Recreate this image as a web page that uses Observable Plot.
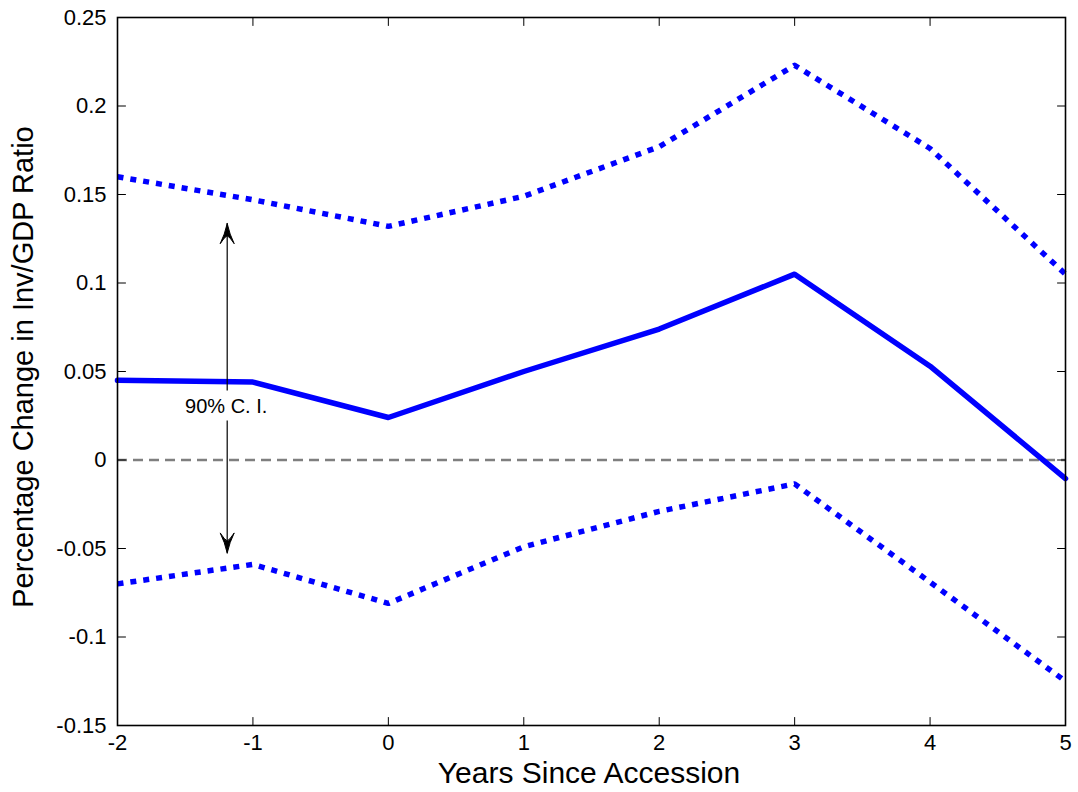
<!DOCTYPE html>
<html>
<head>
<meta charset="utf-8">
<script src="https://cdn.jsdelivr.net/npm/d3@7"></script>
<script src="https://cdn.jsdelivr.net/npm/@observablehq/plot@0.6"></script>
<style>
  html, body { margin: 0; padding: 0; background: #fff; }
  #chart svg { display: block; }
</style>
</head>
<body>
<div id="chart"></div>
<script>
// ---- data ----
const years = [-2, -1, 0, 1, 2, 3, 4, 5];
const estimate = [0.045, 0.044, 0.024, 0.050, 0.074, 0.105, 0.053, -0.0105];
const upperCI = [0.160, 0.147, 0.132, 0.149, 0.177, 0.223, 0.176, 0.105];
const lowerCI = [-0.070, -0.059, -0.081, -0.049, -0.029, -0.0135, -0.069, -0.125];

const xTicks = [-2, -1, 0, 1, 2, 3, 4, 5];
const yTicks = [-0.15, -0.1, -0.05, 0, 0.05, 0.1, 0.15, 0.2, 0.25];
const yTickLabels = ["-0.15", "-0.1", "-0.05", "0", "0.05", "0.1", "0.15", "0.2", "0.25"];

const xLabel = "Years Since Accession";
const yLabel = "Percentage Change in Inv/GDP Ratio";

// annotation: "90% C. I." with two arrows
const annotX = -1.19;
const annotText = "90% C. I.";
const annotTextY = 0.030;
const arrowTails = [0.039, 0.022];
const arrowTips = [0.1335, -0.0525];

const xDomain = [-2, 5];
const yDomain = [-0.15, 0.25];

// ---- build tables ----
const rows = (vals) => years.map((x, i) => ({x, y: vals[i]}));
const est = rows(estimate), up = rows(upperCI), lo = rows(lowerCI);
const arrows = arrowTails.map((t, i) => ({x: annotX, y1: t, y2: arrowTips[i], rot: arrowTips[i] > t ? 0 : 180}));

const tickShape = {draw(context, l) { context.moveTo(0, 0); context.lineTo(0, -l); }};
const headShape = {draw(context, l) {
  // filled, notched arrow head pointing up; tip at (0,-l)
  context.moveTo(0, -l);
  context.quadraticCurveTo(-2.5, -l * 0.45, -7, 0);
  context.quadraticCurveTo(-2.5, -l * 0.35, 0, -l * 0.4);
  context.quadraticCurveTo(2.5, -l * 0.35, 7, 0);
  context.quadraticCurveTo(2.5, -l * 0.45, 0, -l);
  context.closePath();
}};
const tickLen = 8;

const chart = Plot.plot({
  width: 1078,
  height: 792,
  marginTop: 17,
  marginLeft: 117,
  marginRight: 13,
  marginBottom: 67,
  style: {fontFamily: "'Liberation Sans', Arial, Helvetica, sans-serif", background: "#fff"},
  x: {domain: xDomain},
  y: {domain: yDomain},
  marks: [
    // zero reference line
    Plot.ruleY([0], {stroke: "#7f7f7f", strokeWidth: 2.5, strokeDasharray: "10,6"}),
    // confidence bands
    Plot.line(up, {x: "x", y: "y", stroke: "#0000ff", strokeWidth: 5.5, strokeDasharray: "6,7", strokeLinecap: "butt"}),
    Plot.line(lo, {x: "x", y: "y", stroke: "#0000ff", strokeWidth: 5.5, strokeDasharray: "6,7", strokeLinecap: "butt"}),
    // point estimate
    Plot.line(est, {x: "x", y: "y", stroke: "#0000ff", strokeWidth: 5.5}),
    // annotation arrows
    Plot.ruleX(arrows, {x: "x", y1: "y1", y2: "y2", stroke: "black", strokeWidth: 1.2}),
    Plot.vector(arrows, {x: "x", y: "y2", rotate: "rot", length: 20, anchor: "end", shape: headShape, stroke: "black", strokeWidth: 1, fill: "black"}),
    Plot.text([annotText], {x: annotX, y: annotTextY, text: d => d, fontSize: 20, fill: "black", textAnchor: "middle", dx: -1}),
    // inward ticks
    Plot.vector(xTicks, {x: d => d, y: yDomain[0], rotate: 0, length: tickLen, anchor: "start", shape: tickShape, stroke: "black", strokeWidth: 1}),
    Plot.vector(xTicks, {x: d => d, y: yDomain[1], rotate: 180, length: tickLen, anchor: "start", shape: tickShape, stroke: "black", strokeWidth: 1}),
    Plot.vector(yTicks, {x: xDomain[0], y: d => d, rotate: 90, length: tickLen, anchor: "start", shape: tickShape, stroke: "black", strokeWidth: 1}),
    Plot.vector(yTicks, {x: xDomain[1], y: d => d, rotate: -90, length: tickLen, anchor: "start", shape: tickShape, stroke: "black", strokeWidth: 1}),
    // axes labels
    Plot.axisX({ticks: xTicks, tickSize: 0, tickPadding: 9, fontSize: 22, tickFormat: d => String(d).replace("−", "-"), label: null}),
    Plot.axisY({ticks: yTicks, tickSize: 0, tickPadding: 11, fontSize: 22, tickFormat: d => yTickLabels[yTicks.indexOf(d)] ?? "", label: null}),
    Plot.frame({stroke: "black", strokeWidth: 1.6})
  ]
});

const svg = d3.select(chart);
svg.append("text")
  .attr("x", 589).attr("y", 783)
  .attr("text-anchor", "middle")
  .attr("font-size", 30)
  .attr("fill", "black")
  .text(xLabel);
svg.append("text")
  .attr("transform", "translate(33,367) rotate(-90)")
  .attr("text-anchor", "middle")
  .attr("font-size", 29)
  .attr("fill", "black")
  .text(yLabel);

document.getElementById("chart").appendChild(chart);
</script>
</body>
</html>
